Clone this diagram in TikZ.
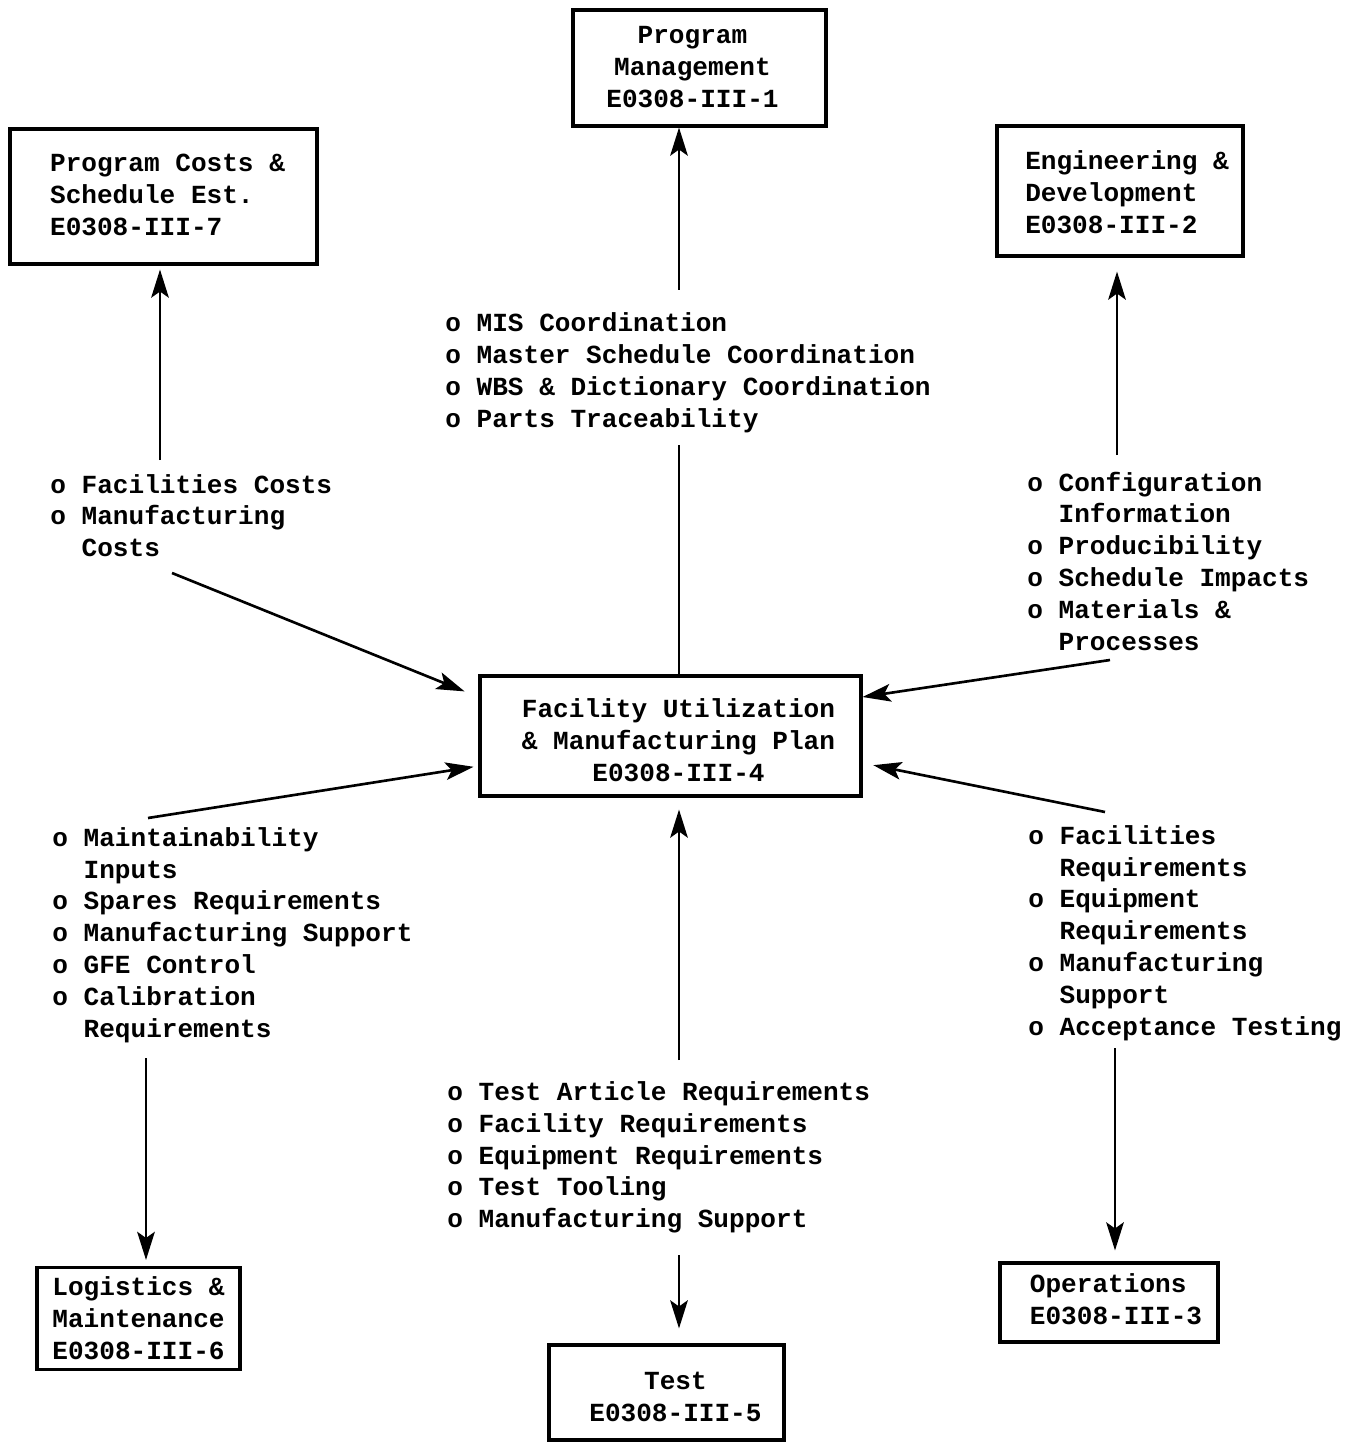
\documentclass[tikz,border=0pt]{standalone}
\usepackage{fontspec}
\setmainfont{Liberation Mono}
\usetikzlibrary{arrows.meta}
\newcommand\ind{\hphantom{o\ }}
\newcommand\padl[4]{\vbox{\vskip#3\hbox{\begin{tabular}{@{\hspace{#1}}l@{\hspace{#2}}}#4\end{tabular}}}}
\newcommand\padc[4]{\vbox{\vskip#3\hbox{\begin{tabular}{@{\hspace{#1}}c@{\hspace{#2}}}#4\end{tabular}}}}
\begin{document}
\begin{tikzpicture}[x=0.02cm,y=-0.02cm,
  every node/.style={font=\fontsize{14.85}{18.21}\selectfont\bfseries},
  box/.style={draw, line width=1.8pt, inner sep=0pt},
  conn/.style={line width=1.5pt},
  arr/.style={conn, -{Stealth[length=16pt,width=10pt,inset=3.5pt]}},
  txt/.style={anchor=base west, inner sep=0pt}]
\useasboundingbox (0,0) rectangle (1345,1442);

% boxes
\node[box, minimum width=5.06cm, minimum height=2.32cm] (pm) at (699.5,68)
  {\padc{0pt}{8pt}{1.1pt}{Program\\Management\\E0308-III-1}};
\node[box, minimum width=6.14cm, minimum height=2.7cm] (pc) at (163.5,196.5)
  {\padl{4.6pt}{0pt}{1.1pt}{Program Costs \&\\Schedule Est.\\E0308-III-7}};
\node[box, minimum width=4.92cm, minimum height=2.6cm] (ed) at (1120,191)
  {\padl{8pt}{0pt}{4.6pt}{Engineering \&\\Development\\E0308-III-2}};
\node[box, minimum width=7.62cm, minimum height=2.4cm] (fu) at (670.5,736)
  {\padc{9.1pt}{0pt}{8pt}{Facility Utilization\\\& Manufacturing Plan\\E0308-III-4}};
\node[box, minimum width=4.06cm, minimum height=2.02cm] (lm) at (138.5,1318.5)
  {\padl{0pt}{0pt}{3.4pt}{Logistics \&\\Maintenance\\E0308-III-6}};
\node[box, minimum width=4.7cm, minimum height=1.9cm] (te) at (666.5,1392.5)
  {\padc{10.2pt}{0pt}{8pt}{Test\\E0308-III-5}};
\node[box, minimum width=4.36cm, minimum height=1.58cm] (op) at (1109,1302.5)
  {\padl{8pt}{0pt}{0pt}{Operations\\E0308-III-3}};

% text blocks
\node[txt] (tc) at (445,332) {\begin{tabular}[t]{@{}l@{}}
o MIS Coordination\\
o Master Schedule Coordination\\
o WBS \& Dictionary Coordination\\
o Parts Traceability\end{tabular}};
\node[txt] (lu) at (50,493) {\begin{tabular}[t]{@{}l@{}}
o Facilities Costs\\
o Manufacturing\\
\ind Costs\end{tabular}};
\node[txt] (ru) at (1027,491) {\begin{tabular}[t]{@{}l@{}}
o Configuration\\
\ind Information\\
o Producibility\\
o Schedule Impacts\\
o Materials \&\\
\ind Processes\end{tabular}};
\node[txt] (ll) at (52,846) {\begin{tabular}[t]{@{}l@{}}
o Maintainability\\
\ind Inputs\\
o Spares Requirements\\
o Manufacturing Support\\
o GFE Control\\
o Calibration\\
\ind Requirements\end{tabular}};
\node[txt] (bc) at (447,1100) {\begin{tabular}[t]{@{}l@{}}
o Test Article Requirements\\
o Facility Requirements\\
o Equipment Requirements\\
o Test Tooling\\
o Manufacturing Support\end{tabular}};
\node[txt] (rl) at (1028,844) {\begin{tabular}[t]{@{}l@{}}
o Facilities\\
\ind Requirements\\
o Equipment\\
\ind Requirements\\
o Manufacturing\\
\ind Support\\
o Acceptance Testing\end{tabular}};

% connector end points
\coordinate (t1) at (679,445);
\coordinate (t2) at (679,290);
\coordinate (p1) at (160,460);
\coordinate (a1) at (172,573);
\coordinate (e1) at (1117,455);
\coordinate (a2) at (1110,660);
\coordinate (a3) at (148,818);
\coordinate (l1) at (146,1058);
\coordinate (b1) at (679,1060);
\coordinate (b2) at (679,1255);
\coordinate (a4) at (1105,812);
\coordinate (o1) at (1115,1048);

% connectors
\draw[conn] (t1 |- fu.north) -- (t1);
\draw[arr] (t2) -- (t2 |- pm.south);
\draw[arr, shorten >=0.08cm] (p1) -- (p1 |- pc.south);
\draw[arr, shorten >=0.3cm] (a1) -- ([yshift=0.78cm]fu.west);
\draw[arr, shorten >=0.28cm] (e1) -- (e1 |- ed.south);
\draw[arr] (a2) -- ([yshift=0.78cm]fu.east);
\draw[arr, shorten >=0.1cm] (a3) -- ([yshift=-0.6cm]fu.west);
\draw[arr, shorten >=0.12cm] (l1) -- (l1 |- lm.north);
\draw[arr, shorten >=0.24cm] (b1) -- (b1 |- fu.south);
\draw[arr, shorten >=0.3cm] (b2) -- (b2 |- te.north);
\draw[arr, shorten >=0.22cm] (a4) -- ([yshift=-0.54cm]fu.east);
\draw[arr, shorten >=0.22cm] (o1) -- (o1 |- op.north);
\end{tikzpicture}
\end{document}
